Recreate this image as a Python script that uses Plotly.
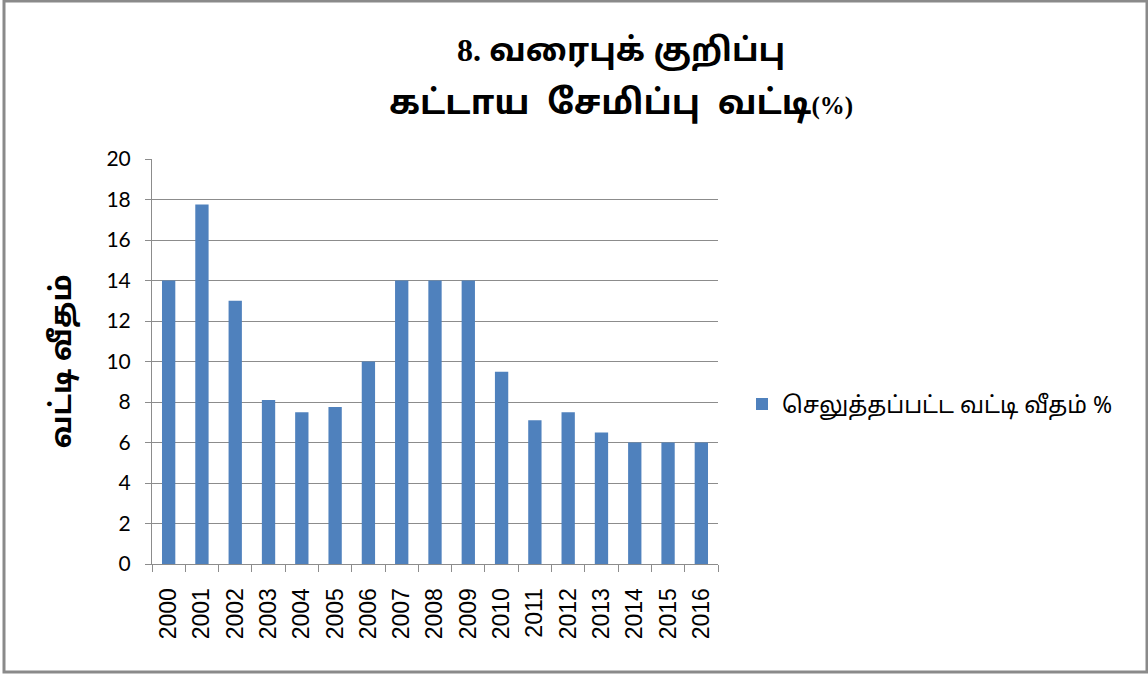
import plotly.graph_objects as go

years = [str(y) for y in range(2000, 2017)]
rates = [14, 17.75, 13, 8.1, 7.5, 7.75, 10, 14, 14, 14, 9.5, 7.1, 7.5, 6.5, 6, 6, 6]
series_name = "செலுத்தப்பட்ட வட்டி வீதம் %"
title_line1 = "வரைபுக் குறிப்பு"
title_line2 = "கட்டாய சேமிப்பு வட்டி"
y_title = "வட்டி வீதம்"

W, H = 1148, 675
L, R, T, B = 152, 718, 159, 564

def px_x(p):
    return (p - L) / (R - L)

def px_y(p):
    return (B - p) / (B - T)

fig = go.Figure()
fig.add_trace(go.Bar(x=years, y=rates, name=series_name,
                     marker=dict(color="#4F81BD", line=dict(width=0)),
                     showlegend=True))

grid = "#8c8c8c"
tamil = "Noto Sans Tamil, Latha, Noto Sans, sans-serif"

fig.update_layout(
    width=W, height=H,
    margin=dict(l=L, r=W - R, t=T, b=H - B),
    paper_bgcolor="white", plot_bgcolor="white",
    bargap=0.6,
    showlegend=True,
    legend=dict(x=px_x(742), y=px_y(404), xanchor="left", yanchor="middle",
                font=dict(family=tamil, size=23, color="black"),
                itemwidth=30, bgcolor="rgba(0,0,0,0)"),
    xaxis=dict(type="category", tickangle=-90, tickson="boundaries",
               ticks="outside", ticklen=7, tickcolor=grid, tickwidth=1,
               ticklabelstandoff=14,
               showline=True, linecolor=grid, linewidth=1,
               showgrid=False,
               tickfont=dict(family="Liberation Sans, Arial, sans-serif", size=23, color="black")),
    yaxis=dict(range=[0, 20], dtick=2, tick0=0,
               ticks="outside", ticklen=6, tickcolor=grid, tickwidth=1,
               ticklabelstandoff=10,
               showline=True, linecolor=grid, linewidth=1,
               showgrid=True, gridcolor=grid, gridwidth=1,
               zeroline=False,
               tickfont=dict(family="Lato, Carlito, sans-serif", size=21, color="black"),
               title=dict(text="<b>" + y_title + "</b>", standoff=26,
                          font=dict(family=tamil, size=29, color="black"))),
)

fig.add_annotation(
    xref="paper", yref="paper", x=px_x(621), y=px_y(52),
    xanchor="center", yanchor="middle", showarrow=False,
    text="<b><span style='font-family:Liberation Serif, Times New Roman, serif'>8.</span> " + title_line1 + "</b>",
    font=dict(family=tamil, size=32, color="black"))
fig.add_annotation(
    xref="paper", yref="paper", x=px_x(621), y=px_y(105),
    xanchor="center", yanchor="middle", showarrow=False,
    text="<b>" + title_line2.replace(" ", "  ") + "<span style='font-family:Liberation Serif, Times New Roman, serif;font-size:25px'>(%)</span></b>",
    font=dict(family=tamil, size=34, color="black"))

fig.add_shape(type="rect", xref="paper", yref="paper",
              x0=px_x(4), x1=px_x(1147), y0=px_y(1), y1=px_y(672),
              line=dict(color="#8a8a8a", width=3), layer="below")

fig.write_html("out.html", config={"displayModeBar": False},
               post_script="document.body.style.margin='0';document.body.style.overflow='hidden';")
